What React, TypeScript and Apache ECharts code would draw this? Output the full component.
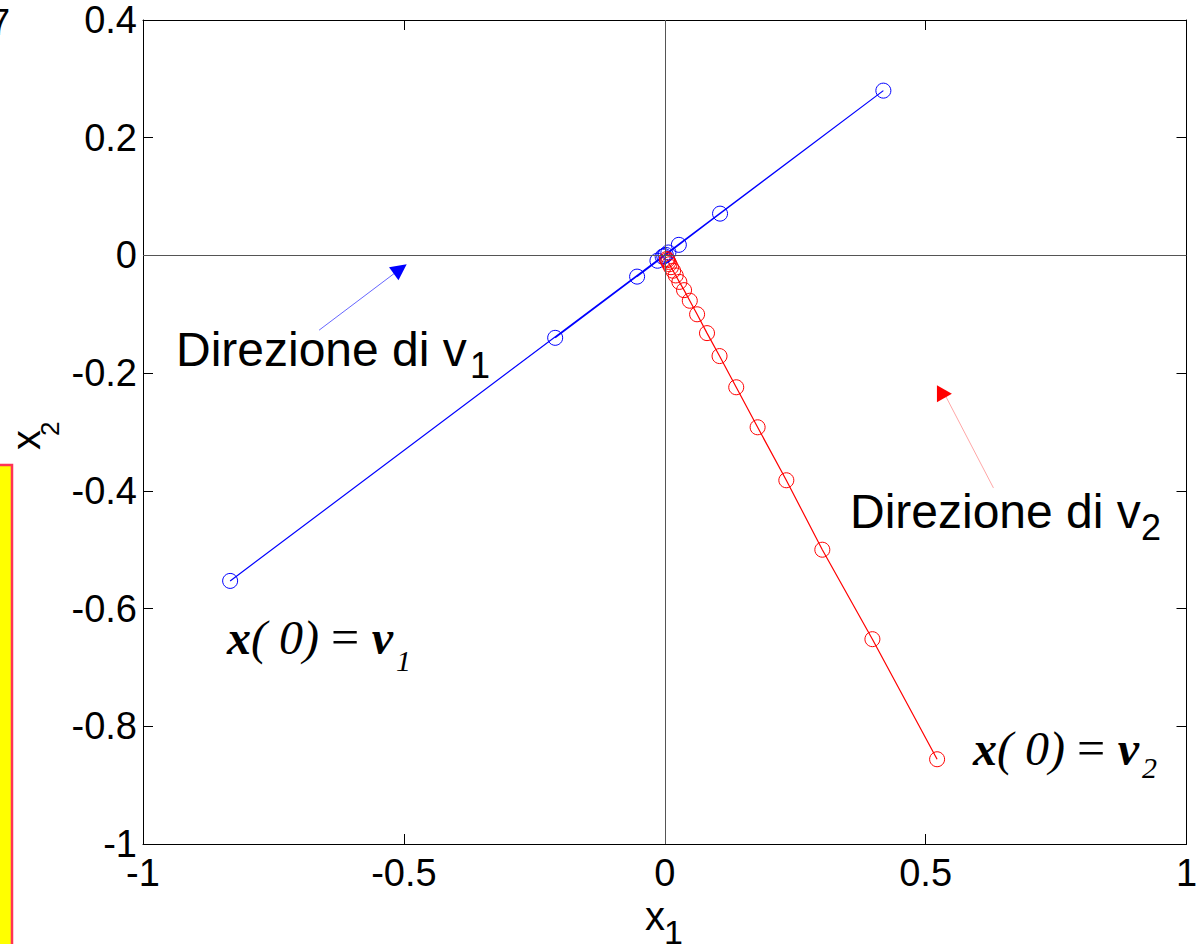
import React, { useEffect, useRef } from "react";
import * as echarts from "echarts";

// Axis ranges / ticks
const xRange = [-1, 1];
const xStep = 0.5;
const yRange = [-1, 0.4];
const yStep = 0.2;

// Trajectory starting at v1 (blue)
const blueX = [-0.833, 0.419, -0.21, 0.106, -0.053, 0.027, -0.014, 0.007, -0.004, 0.002, -0.001];
const blueY = [-0.553, 0.28, -0.14, 0.071, -0.036, 0.018, -0.009, 0.005, -0.002, 0.001, -0.001];

// Trajectory starting at v2 (red)
const redX = [0.522, 0.398, 0.302, 0.233, 0.178, 0.137, 0.105, 0.081, 0.062, 0.048, 0.037, 0.028, 0.021, 0.016, 0.012, 0.009, 0.007, 0.005, 0.004];
const redY = [-0.856, -0.652, -0.5, -0.382, -0.292, -0.224, -0.171, -0.132, -0.1, -0.077, -0.059, -0.045, -0.034, -0.026, -0.02, -0.015, -0.011, -0.008, -0.006];

// Direction arrows (tail, head) in data coordinates
const arrowV1 = [[-0.6625, -0.127], [-0.507, -0.023]];
const arrowV2 = [[0.63, -0.395], [0.536, -0.235]];

const SANS = "Liberation Sans, Arial, Helvetica, sans-serif";
const SERIF = "Liberation Serif, Times New Roman, serif";

function txt(x: number, y: number, text: string, size: number, extra: any = {}) {
  return {
    type: "text",
    x,
    y,
    silent: true,
    style: {
      text,
      fontSize: size,
      fontFamily: SANS,
      fill: "#000",
      align: "left",
      textAlign: "left",
      verticalAlign: "middle",
      textVerticalAlign: "middle",
      ...extra,
    },
  };
}

export default function App() {
  const ref = useRef<HTMLDivElement>(null);

  useEffect(() => {
    if (!ref.current) return;
    const chart = echarts.init(ref.current, undefined, { renderer: "svg" });

    const axisCommon = {
      type: "value",
      axisLine: { show: true, onZero: false, lineStyle: { color: "#000", width: 1 } },
      axisTick: { show: true, inside: true, length: 10, lineStyle: { color: "#000", width: 1 } },
      splitLine: { show: false },
    };

    const mathRich = {
      b: { fontFamily: SERIF, fontSize: 48, fontWeight: "bold", fontStyle: "italic", fill: "#000", color: "#000" },
      i: { fontFamily: SERIF, fontSize: 48, fontStyle: "italic", fill: "#000", color: "#000" },
      r: { fontFamily: SERIF, fontSize: 50, fill: "#000", color: "#000" },
    };
    const mathText = "{b|x}{i|( 0) }{r|= }{b|v}";

    const option: any = {
      animation: false,
      backgroundColor: "#fff",
      grid: { left: 143, right: 16.5, top: 20, bottom: 100, containLabel: false },
      xAxis: [
        {
          ...axisCommon,
          position: "bottom",
          min: xRange[0],
          max: xRange[1],
          interval: xStep,
          axisLabel: {
            margin: 10,
            fontSize: 38,
            color: "#000",
            fontFamily: SANS,
            formatter: (v: number) => String(Math.round(v * 10) / 10),
          },
        },
        {
          ...axisCommon,
          position: "top",
          min: xRange[0],
          max: xRange[1],
          interval: xStep,
          axisLabel: { show: false },
        },
      ],
      yAxis: [
        {
          ...axisCommon,
          position: "left",
          min: yRange[0],
          max: yRange[1],
          interval: yStep,
          axisLabel: {
            margin: 6,
            fontSize: 38,
            color: "#000",
            fontFamily: SANS,
            formatter: (v: number) => String(Math.round(v * 10) / 10),
          },
        },
        {
          ...axisCommon,
          position: "right",
          min: yRange[0],
          max: yRange[1],
          interval: yStep,
          axisLabel: { show: false },
        },
      ],
      series: [
        {
          type: "line",
          xAxisIndex: 0,
          yAxisIndex: 0,
          data: [],
          silent: true,
          markLine: {
            silent: true,
            symbol: ["none", "none"],
            label: { show: false },
            lineStyle: { color: "#555", width: 1, type: "solid" },
            data: [{ xAxis: 0 }, { yAxis: 0 }],
          },
        },
        {
          type: "line",
          xAxisIndex: 0,
          yAxisIndex: 0,
          data: blueX.map((x, i) => [x, blueY[i]]),
          symbol: "circle",
          symbolSize: 15,
          lineStyle: { color: "#0000ff", width: 1.2 },
          itemStyle: { color: "transparent", borderColor: "#0000ff", borderWidth: 1 },
          markLine: {
            silent: true,
            symbol: ["none", "none"],
            label: { show: false },
            lineStyle: { color: "#0000ff", width: 1, type: "solid", opacity: 0.6 },
            data: [[{ coord: arrowV1[0] }, { coord: arrowV1[1] }]],
          },
          markPoint: {
            silent: true,
            symbol: "triangle",
            symbolSize: 16,
            symbolRotate: -54,
            label: { show: false },
            itemStyle: { color: "#0000ff" },
            data: [{ coord: arrowV1[1] }],
          },
        },
        {
          type: "line",
          xAxisIndex: 0,
          yAxisIndex: 0,
          data: redX.map((x, i) => [x, redY[i]]),
          symbol: "circle",
          symbolSize: 15,
          lineStyle: { color: "#ff0000", width: 1.2 },
          itemStyle: { color: "transparent", borderColor: "#ff0000", borderWidth: 1 },
          markLine: {
            silent: true,
            symbol: ["none", "none"],
            label: { show: false },
            lineStyle: { color: "#ff0000", width: 1, type: "solid", opacity: 0.35 },
            data: [[{ coord: arrowV2[0] }, { coord: arrowV2[1] }]],
          },
          markPoint: {
            silent: true,
            symbol: "triangle",
            symbolSize: [17, 15],
            symbolRotate: -90,
            label: { show: false },
            itemStyle: { color: "#ff0000" },
            data: [{ coord: arrowV2[1] }],
          },
        },
      ],
      graphic: [
        // fragment of neighbouring figure on the left
        {
          type: "rect",
          silent: true,
          shape: { x: -6, y: 465, width: 18, height: 500 },
          style: { fill: "#ffff00", stroke: "#ff3355", lineWidth: 2.5 },
        },
        txt(10, 22, "7", 36, { align: "right", textAlign: "right" }),
        // annotations
        txt(176, 349, "Direzione di v", 48),
        txt(470, 365, "1", 36),
        txt(850, 511, "Direzione di v", 48),
        txt(1141, 527, "2", 36),
        {
          type: "text",
          x: 227,
          y: 637,
          silent: true,
          style: { text: mathText, rich: mathRich, align: "left", textAlign: "left", verticalAlign: "middle", textVerticalAlign: "middle" },
        },
        txt(396, 660, "1", 30, { fontFamily: SERIF, fontStyle: "italic" }),
        {
          type: "text",
          x: 973,
          y: 748,
          silent: true,
          style: { text: mathText, rich: mathRich, align: "left", textAlign: "left", verticalAlign: "middle", textVerticalAlign: "middle" },
        },
        txt(1142, 767, "2", 30, { fontFamily: SERIF, fontStyle: "italic" }),
        // axis names
        txt(645, 916, "x", 40),
        txt(664, 932, "1", 34),
        {
          type: "group",
          x: 25.5,
          y: 450,
          rotation: Math.PI / 2,
          silent: true,
          children: [txt(0, 0, "x", 40), txt(14, 24, "2", 26)],
        },
      ],
    };

    chart.setOption(option);
    return () => chart.dispose();
  }, []);

  return (
    <div
      ref={ref}
      style={{ position: "absolute", left: 0, top: 0, width: 1203, height: 944, background: "#fff" }}
    />
  );
}
